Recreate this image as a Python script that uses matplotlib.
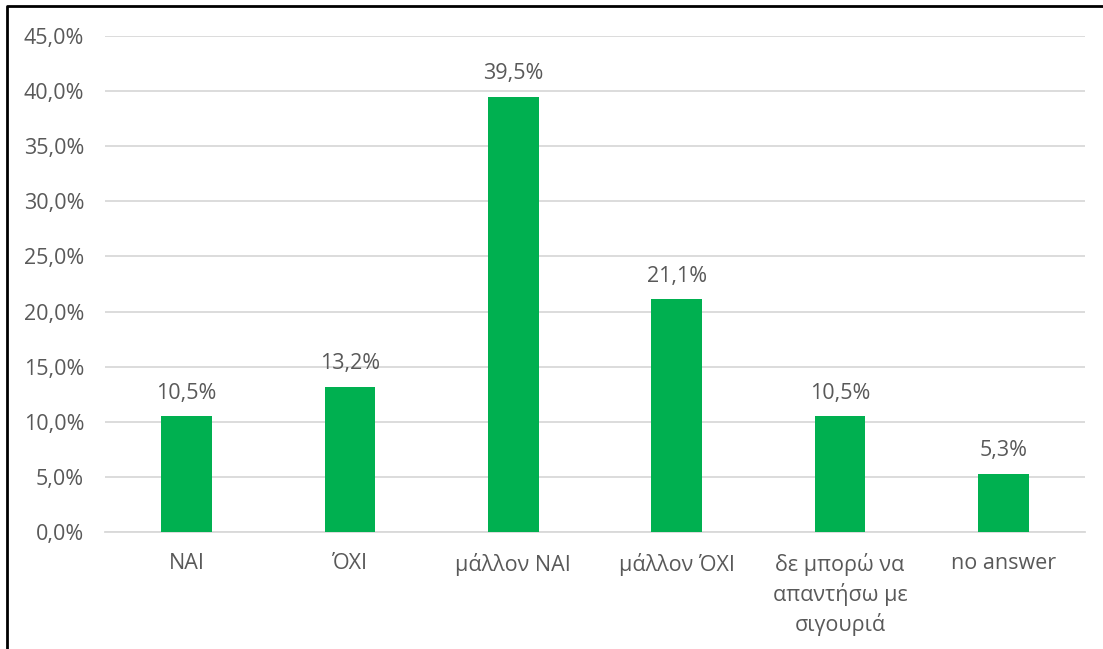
import matplotlib.pyplot as plt
from matplotlib.lines import Line2D
from matplotlib.ticker import FuncFormatter, MultipleLocator

# Dados
categorias = ['NAI', 'ΌΧΙ', 'μάλλον NAI', 'μάλλον ΌΧΙ',
              'δε μπορώ να\nαπαντήσω με\nσιγουριά', 'no answer']
valores = [10.5, 13.2, 39.5, 21.1, 10.5, 5.3]

plt.rcParams['font.family'] = ['Open Sans', 'DejaVu Sans']
cor_texto = '#595959'
fs = 15.5

fig = plt.figure(figsize=(11.03, 6.49), dpi=100)
ax = fig.add_axes([0.0952, 0.1803, 0.8885, 0.7642])

x = range(len(categorias))
ax.bar(x, valores, width=0.31, color='#00b050', zorder=3)

# rótulos em cima das barras
for i, v in zip(x, valores):
    ax.annotate(f'{v:.1f}%'.replace('.', ','), (i, v), xytext=(0, 9),
                textcoords='offset points', ha='center', va='bottom',
                fontsize=fs, color=cor_texto)

ax.set_xlim(-0.5, len(categorias) - 0.5)
ax.set_ylim(0, 45)
ax.yaxis.set_major_locator(MultipleLocator(5))
ax.yaxis.set_major_formatter(FuncFormatter(lambda v, p: f'{v:.1f}%'.replace('.', ',')))
ax.grid(axis='y', color='#d9d9d9', linewidth=1.3, zorder=0)

ax.set_xticks(list(x))
ax.set_xticklabels(categorias, fontsize=fs, color=cor_texto, linespacing=1.4)
ax.tick_params(axis='y', labelsize=fs, labelcolor=cor_texto, length=0, pad=15)
ax.tick_params(axis='x', length=0, pad=15)

for s in ['top', 'right', 'left']:
    ax.spines[s].set_visible(False)
ax.spines['bottom'].set_color('#d9d9d9')
ax.spines['bottom'].set_linewidth(1.3)

# moldura (só esquerda e topo aparecem)
fig.add_artist(Line2D([0.0063, 0.0063, 1.0], [0.0, 0.9915, 0.9915],
                      transform=fig.transFigure, color='black', linewidth=2))

fig.savefig('out.png', dpi=100)
